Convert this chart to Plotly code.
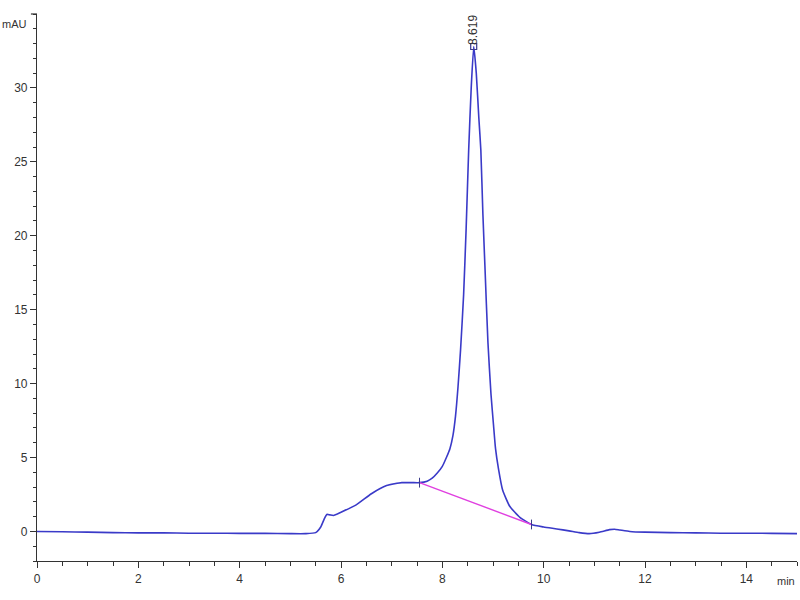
import plotly.graph_objects as go

time_min = [0, 0.5, 1, 1.5, 2, 2.5, 3, 3.5, 4, 4.5, 5, 5.3, 5.5, 5.6, 5.67, 5.72, 5.78, 5.85,
            6.0, 6.3, 6.6, 6.9, 7.2, 7.4, 7.55, 7.7, 7.8, 7.9, 8.0, 8.08, 8.15, 8.21, 8.26,
            8.31, 8.36, 8.42, 8.47, 8.52, 8.57, 8.62, 8.67, 8.72, 8.76, 8.80, 8.84, 8.90, 8.96,
            9.01, 9.05, 9.11, 9.19, 9.33, 9.53, 9.76, 10.0, 10.26, 10.5, 10.7, 10.9, 11.1,
            11.3, 11.4, 11.5, 11.7, 12, 12.5, 13, 13.5, 14, 14.5, 15]
signal_mau = [0.0, -0.02, -0.05, -0.08, -0.1, -0.1, -0.12, -0.12, -0.13, -0.13, -0.15, -0.15,
              -0.08, 0.3, 0.85, 1.15, 1.12, 1.08, 1.3, 1.8, 2.55, 3.1, 3.3, 3.3, 3.3, 3.4, 3.6,
              3.95, 4.4, 5.0, 5.6, 6.5, 7.8, 9.8, 12.3, 16.0, 20.5, 25.8, 30.0, 32.8, 31.0, 28.0,
              25.8, 21.5, 18.0, 12.8, 9.3, 7.2, 5.6, 4.2, 2.8, 1.7, 0.95, 0.47, 0.3, 0.17, 0.04,
              -0.08, -0.15, -0.05, 0.12, 0.15, 0.1, 0.0, -0.05, -0.08, -0.1, -0.12, -0.12,
              -0.13, -0.15]

baseline_t = [7.55, 9.76]
baseline_y = [3.3, 0.47]

peak_t = 8.619
peak_y = 32.8
peak_label = "8.619"

x_ticks = [0, 2, 4, 6, 8, 10, 12, 14]
y_ticks = [0, 5, 10, 15, 20, 25, 30]

fig = go.Figure()
fig.add_trace(go.Scatter(x=time_min, y=signal_mau, mode="lines",
                         line=dict(color="#3a3ac8", width=1.6, shape="spline", smoothing=0.5),
                         hoverinfo="skip", showlegend=False))
fig.add_trace(go.Scatter(x=baseline_t, y=baseline_y, mode="lines+markers",
                         line=dict(color="#e040e0", width=1.4),
                         marker=dict(symbol="line-ns-open", size=7, color="#3a3a8a",
                                     line=dict(color="#3a3a8a", width=1)),
                         showlegend=False))
fig.add_trace(go.Scatter(x=[peak_t], y=[peak_y], mode="markers",
                         marker=dict(symbol="square-open", size=6, color="#3a3a8a",
                                     line=dict(color="#3a3a8a", width=1.2)),
                         showlegend=False))
fig.add_annotation(x=peak_t, y=33.9, text=peak_label, textangle=-90, showarrow=False,
                   xanchor="center", yanchor="middle",
                   font=dict(family="Liberation Sans, Arial", size=12, color="#333333"))
fig.add_annotation(x=0, y=1, xref="paper", yref="paper", text="mAU", showarrow=False,
                   xanchor="right", yanchor="middle", xshift=-8, yshift=-10,
                   font=dict(family="Liberation Sans, Arial", size=11, color="#333333"))
fig.add_annotation(x=1, y=0, xref="paper", yref="paper", text="min", showarrow=False,
                   xanchor="right", yanchor="top", xshift=0, yshift=-12,
                   font=dict(family="Liberation Sans, Arial", size=11, color="#333333"))
# top cap of the y axis
fig.add_shape(type="line", xref="paper", yref="paper", x0=-0.008, x1=0, y0=1, y1=1,
              line=dict(color="#333333", width=1.2))

fig.update_layout(
    width=800, height=600,
    margin=dict(l=37, r=3, t=14, b=39),
    plot_bgcolor="white", paper_bgcolor="white",
    font=dict(family="Liberation Sans, Arial", size=12, color="#333333"),
    xaxis=dict(range=[0, 15], tickvals=x_ticks, showgrid=False, zeroline=False,
               automargin=False,
               showline=True, linecolor="#333333", linewidth=1.2,
               ticks="outside", ticklen=6, tickcolor="#333333",
               minor=dict(dtick=0.5, ticks="outside", ticklen=4, tickcolor="#333333"),
               tickfont=dict(size=12, color="#333333")),
    yaxis=dict(range=[-2, 35], tickvals=y_ticks, showgrid=False, zeroline=False,
               automargin=False,
               showline=True, linecolor="#333333", linewidth=1.2,
               ticks="outside", ticklen=6, tickcolor="#333333",
               minor=dict(dtick=1, tick0=0, ticks="outside", ticklen=3, tickcolor="#333333"),
               tickfont=dict(size=12, color="#333333")),
)

fig.write_html("out.html", config={"displayModeBar": False},
               post_script="document.body.style.margin='0px';document.body.style.overflow='hidden';")
